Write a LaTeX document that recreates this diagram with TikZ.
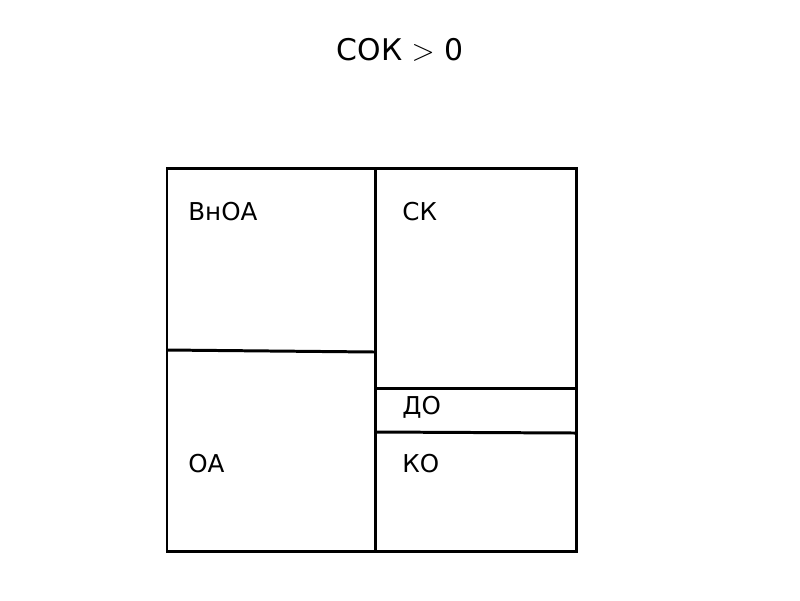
\documentclass[tikz,border=0pt]{standalone}
\usepackage{fontspec}
\setmainfont{DejaVu Sans}
\begin{document}
\begin{tikzpicture}[x=0.02cm,y=-0.02cm,
  ln/.style={line width=1.7pt},
  lbl/.style={anchor=west,inner sep=0pt,font=\fontsize{14}{16}\selectfont}]
\useasboundingbox (0,0) rectangle (800,600);
\coordinate (tl) at (167,168); \coordinate (br) at (576,551);
\draw[ln] (tl) rectangle (br);
\coordinate (mt) at (375,168); \coordinate (mb) at (375,551);
\draw[ln] (mt) -- (mb);
\coordinate (l1) at (167,350); \coordinate (l2) at (375,352);
\draw[ln] (l1) -- (l2);
\coordinate (r1) at (375,388); \coordinate (r2) at (576,388);
\draw[ln] (r1) -- (r2);
\coordinate (r3) at (375,432); \coordinate (r4) at (576,433);
\draw[ln] (r3) -- (r4);
\node[font=\fontsize{17}{20}\selectfont] (t) at (400,50) {СОК $>$ 0};
\node[lbl] (a) at (188,212) {ВнОА};
\node[lbl] (b) at (402,212) {СК};
\node[lbl] (c) at (402,407) {ДО};
\node[lbl] (d) at (188,464) {ОА};
\node[lbl] (e) at (402,464) {КО};
\end{tikzpicture}
\end{document}
